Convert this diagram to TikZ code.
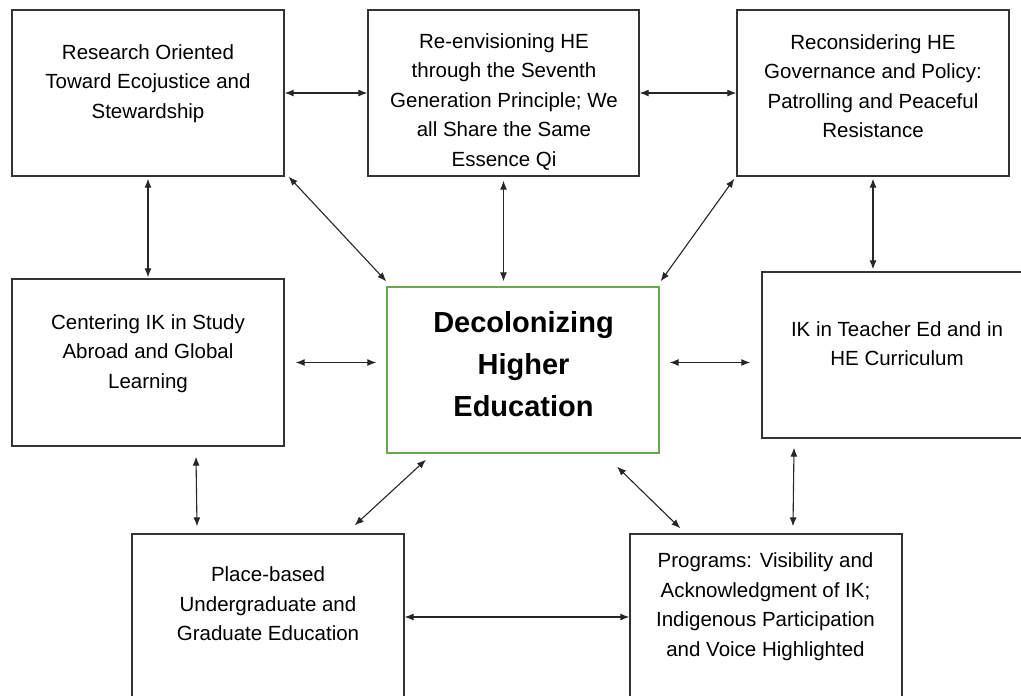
\documentclass[tikz,border=0pt]{standalone}
\usepackage{fontspec}
\setmainfont{Liberation Sans}
\usetikzlibrary{arrows.meta, calc, positioning}

\definecolor{hubgreen}{HTML}{6AA84F}

\tikzset{
  box/.style={draw=black!80, line width=1.3pt, minimum width=272pt, minimum height=166pt, inner sep=0pt},
  hub/.style={box, draw=hubgreen},
  txt/.style={align=center, inner sep=0pt, font=\fontsize{20.5}{29.5}\selectfont},
  link/.style={{Latex[length=9pt,width=7pt]}-{Latex[length=9pt,width=7pt]}, line width=1.1pt, black!85}
}

\begin{document}
\begin{tikzpicture}[x=1pt, y=-1pt]

  \useasboundingbox (0,0) rectangle (1021,696);

  %% Boxes

  % top row
  \node[box] (tl) at (148,93) {};
  \node[box, minimum width=271pt] (tm) at (503.5,93) {};
  \node[box] (tr) at (873,93) {};

  % middle row
  \node[box, minimum height=167pt] (ml) at (148,362.5) {};
  \node[hub] (ctr) at (523,370) {};
  \node[box] (mr) at (898,355) {};

  % bottom row
  \node[box] (bl) at (268,617) {};
  \node[box] (br) at (766,617) {};

  %% Texts
  \node[txt] (tltext) at (148,83.5) {Research Oriented\\Toward Ecojustice and\\Stewardship};
  \node[txt] (tmtext) at (504,102) {Re-envisioning HE\\through the Seventh\\Generation Principle; We\\all Share the Same\\Essence Qi};
  \node[txt] (trtext) at (873,86) {Reconsidering HE\\Governance and Policy:\\Patrolling and Peaceful\\Resistance};
  \node[txt] (mltext) at (148,353.5) {Centering IK in Study\\Abroad and Global\\Learning};
  \node[txt, font=\bfseries\fontsize{29}{42}\selectfont] (ctrtext) at (523.5,364.5) {Decolonizing\\Higher\\Education};
  \node[txt] (mrtext) at (897,343.5) {IK in Teacher Ed and in\\HE Curriculum};
  \node[txt] (bltext) at (268,604) {Place-based\\Undergraduate and\\Graduate Education};
  \node[txt] (brtext) at (765.5,606.5) {Programs: Visibility and\\Acknowledgment of IK;\\Indigenous Participation\\and Voice Highlighted};

  %% Connectors

  % along the top
  \draw[link] (tl.east) -- (tm.west);
  \draw[link] (tm.east) -- (tr.west);

  % top row to the hub
  \draw[link] ($(tl.south east)+(4,0)$) -- ($(ctr.north west)+(0,-5)$);
  \draw[link, shorten <=4pt, shorten >=5pt] (tm.south) -- (tm.south |- ctr.north);
  \draw[link] ($(tr.south west)+(-2,2)$) -- ($(ctr.north east)+(1,-5)$);

  % down the sides
  \draw[link, shorten <=2pt, shorten >=1pt] (tl.south) -- (ml.north);
  \draw[link, shorten <=2pt, shorten >=2pt] (tr.south) -- (tr.south |- mr.north);

  % middle row
  \draw[link, shorten <=11pt, shorten >=10pt] (ml.east) -- (ml.east -| ctr.west);
  \draw[link, shorten <=10pt, shorten >=11pt] (ctr.east |- ml.east) -- (mr.west |- ml.east);

  % to the bottom row
  \draw[link] ($(ml.south)+(48,10)$) -- ($(bl.north)+(-71,-7)$);
  \draw[link] ($(ctr.south)+(-97,6)$) -- ($(bl.north east)+(-50,-8)$);
  \draw[link] ($(ctr.south)+(94,13)$) -- ($(br.north west)+(51,-5)$);
  \draw[link] ($(mr.south)+(-104,9)$) -- ($(br.north)+(27,-7)$);

  % along the bottom
  \draw[link] (bl.east) -- (br.west);

\end{tikzpicture}
\end{document}
